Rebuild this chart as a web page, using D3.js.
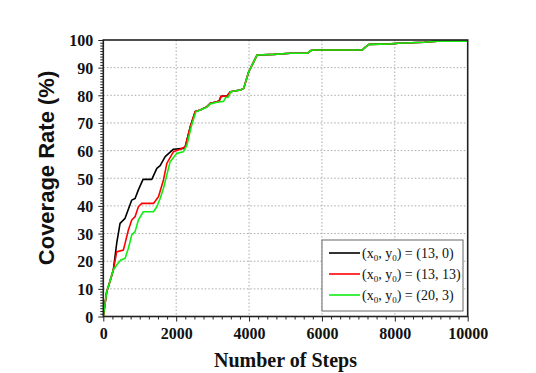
<!DOCTYPE html>
<html><head><meta charset="utf-8">
<script src="https://cdn.jsdelivr.net/npm/d3@7"></script>
<style>body{margin:0;background:#fff;}svg{display:block;}</style>
</head><body>
<script>
const xTicks = [0, 2000, 4000, 6000, 8000, 10000];
const yTicks = [0, 10, 20, 30, 40, 50, 60, 70, 80, 90, 100];
const seriesNames = ["13, 0", "13, 13", "20, 3"];
const seriesColors = ["#000000", "#ff0000", "#11ee11"];

const stepsBlack = [0,94,138,275,368,460,597,781,872,963,1084,1100,1331,1469,1560,1698,1926,2201,2248,2386,2523,2661,2845,2936,3120,3180,3230,3400,3487,3762,3853,3990,4221,4678,5138,5597,5700,5779,7110,7200,7292,7889,8100,8806,9174,10000];
const rateBlack  = [0,9,10.8,16.8,26.5,33.7,35.5,42.1,42.7,45.8,49.4,49.6,49.6,53.6,54.6,57.8,60.5,60.8,61.4,68.6,74.1,74.7,75.9,77.1,77.7,78.0,79.6,79.8,81.3,81.9,82.5,88.5,94.6,94.8,95.2,95.2,96.2,96.4,96.4,97.5,98.4,98.6,98.8,99.2,99.6,99.6];

const stepsRed = [0,94,138,275,368,551,688,781,872,963,1055,1376,1514,1651,1744,1926,2110,2248,2386,2523,2661,2845,2936,3120,3180,3230,3400,3487,3762,3853,3990,4221,4678,5138,5597,5700,5779,7110,7200,7292,7889,8100,8806,9174,10000];
const rateRed  = [0,9,10.8,16.8,23.4,24.0,31.3,34.9,36.1,39.7,40.9,40.9,43.3,49.4,55.4,59.6,60.5,61.4,68.6,74.1,74.7,75.9,77.1,77.7,78.0,79.6,79.8,81.3,81.9,82.5,88.5,94.6,94.8,95.2,95.2,96.2,96.4,96.4,97.5,98.4,98.6,98.8,99.2,99.6,99.6];

const stepsGreen = [0,94,138,275,368,478,597,688,781,872,963,1100,1376,1469,1560,1651,1835,2019,2201,2295,2420,2540,2661,2845,2936,3120,3300,3360,3430,3500,3762,3853,3990,4221,4678,5138,5597,5700,5779,7110,7200,7292,7889,8100,8806,9174,10000];
const rateGreen  = [0,9,10.8,16.8,18.6,20.4,21.0,24.7,29.5,30.7,34.9,37.9,37.9,39.7,42.7,46.4,56.0,59.0,59.6,62.0,69.0,74.0,74.7,75.7,76.9,77.5,77.8,79.2,79.3,81.3,81.9,82.5,88.5,94.6,94.8,95.2,95.2,96.2,96.4,96.4,97.5,98.4,98.6,98.8,99.2,99.6,99.6];

const W = 536, H = 373;
const L = 103.3, R = 467.7, T = 40, B = 316.5;

const svg = d3.select("body").append("svg").attr("width", W).attr("height", H);
svg.append("rect").attr("width", W).attr("height", H).attr("fill", "#fff");

const x = d3.scaleLinear().domain([0, 10000]).range([L, R]);
const y = d3.scaleLinear().domain([0, 100]).range([B, T]);

// grid
const g = svg.append("g");
g.selectAll(".gx").data(xTicks.slice(1, -1)).enter().append("line")
  .attr("x1", d => x(d)).attr("x2", d => x(d)).attr("y1", T).attr("y2", B)
  .attr("stroke", "#aaa").attr("stroke-width", 1).attr("stroke-dasharray", "1.5,2");
g.selectAll(".gy").data(yTicks.slice(1, -1)).enter().append("line")
  .attr("x1", L).attr("x2", R).attr("y1", d => y(d)).attr("y2", d => y(d))
  .attr("stroke", "#aaa").attr("stroke-width", 1).attr("stroke-dasharray", "1.5,2");

// minor ticks
const xMinor = d3.range(0, 10001, 250).filter(v => v % 2000 !== 0);
const yMinor = d3.range(0, 101, 1).filter(v => v % 10 !== 0);
svg.append("g").attr("transform", `translate(0,${B})`)
  .call(d3.axisBottom(x).tickValues(xMinor).tickSize(3).tickFormat(""))
  .call(a => a.select(".domain").remove())
  .selectAll("line").attr("stroke", "#222");
svg.append("g").attr("transform", `translate(${L},0)`)
  .call(d3.axisLeft(y).tickValues(yMinor).tickSize(3).tickFormat(""))
  .call(a => a.select(".domain").remove())
  .selectAll("line").attr("stroke", "#222");

// major axes
const xAxis = svg.append("g").attr("transform", `translate(0,${B})`)
  .call(d3.axisBottom(x).tickValues(xTicks).tickSize(5).tickPadding(6).tickFormat(d3.format("d")));
xAxis.select(".domain").remove();
xAxis.selectAll("line").attr("stroke", "#222").attr("stroke-width", 1);
xAxis.selectAll("text").attr("font-family", "Liberation Serif, Times New Roman, serif")
  .attr("font-weight", "bold").attr("font-size", 16).attr("fill", "#111");

const yAxis = svg.append("g").attr("transform", `translate(${L},0)`)
  .call(d3.axisLeft(y).tickValues(yTicks).tickSize(5).tickPadding(5));
yAxis.select(".domain").remove();
yAxis.selectAll("line").attr("stroke", "#222").attr("stroke-width", 1);
yAxis.selectAll("text").attr("font-family", "Liberation Serif, Times New Roman, serif")
  .attr("font-weight", "bold").attr("font-size", 16).attr("fill", "#111").attr("dy", "0.36em");

// lines
const line = d3.line().x(d => x(d[0])).y(d => y(d[1]));
const series = [
  d3.zip(stepsBlack, rateBlack),
  d3.zip(stepsRed, rateRed),
  d3.zip(stepsGreen, rateGreen)
];
svg.append("clipPath").attr("id", "clip").append("rect")
  .attr("x", L).attr("y", T).attr("width", R - L).attr("height", B - T);
svg.append("g").attr("clip-path", "url(#clip)").selectAll("path").data(series).enter().append("path")
  .attr("d", line).attr("fill", "none")
  .attr("stroke", (d, i) => seriesColors[i]).attr("stroke-width", 1.6)
  .attr("stroke-linejoin", "round");

// frame
svg.append("rect").attr("x", L).attr("y", T).attr("width", R - L).attr("height", B - T)
  .attr("fill", "none").attr("stroke", "#222").attr("stroke-width", 1.6);

// titles
svg.append("text").attr("x", (L + R) / 2).attr("y", 367).attr("text-anchor", "middle")
  .attr("font-family", "Liberation Serif, Times New Roman, serif").attr("font-weight", "bold")
  .attr("font-size", 20).attr("fill", "#111").text("Number of Steps");
svg.append("text").attr("transform", `translate(54,168) rotate(-90)`).attr("text-anchor", "middle")
  .attr("font-family", "Liberation Sans, Arial, sans-serif").attr("font-weight", "bold")
  .attr("font-size", 22).attr("fill", "#111").text("Coverage Rate (%)");

// legend
const lg = svg.append("g");
lg.append("rect").attr("x", 322).attr("y", 240).attr("width", 141).attr("height", 71)
  .attr("fill", "#fff").attr("stroke", "#666").attr("stroke-width", 1);
seriesNames.forEach((name, i) => {
  const yy = 253 + i * 21;
  lg.append("line").attr("x1", 329).attr("x2", 360).attr("y1", yy).attr("y2", yy)
    .attr("stroke", seriesColors[i]).attr("stroke-width", 1.6);
  const t = lg.append("text").attr("x", 362).attr("y", yy + 5)
    .attr("font-family", "Liberation Serif, Times New Roman, serif").attr("font-size", 14).attr("fill", "#111");
  t.append("tspan").text("(x");
  t.append("tspan").attr("font-size", 9).attr("dy", 3).text("0");
  t.append("tspan").attr("dy", -3).text(", y");
  t.append("tspan").attr("font-size", 9).attr("dy", 3).text("0");
  t.append("tspan").attr("dy", -3).text(") = (" + name + ")");
});
</script>
</body></html>
